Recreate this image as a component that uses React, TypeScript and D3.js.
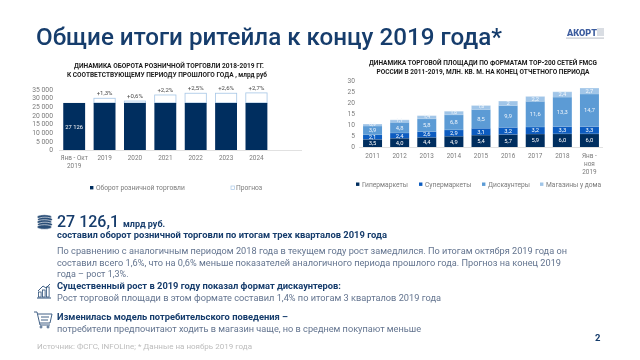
import React from "react";
import * as d3 from "d3";

const turnoverCats = ["Янв - Окт|2019", "2019", "2020", "2021", "2022", "2023", "2024", ""];
const turnoverBase = [27126, 27126, 27126, 27126, 27126, 27126, 27126];
const forecastExtra = [0, 2700, 1100, 4600, 5600, 5600, 5800];
const growthLabels = ["", "+1,3%", "+0,6%", "+2,2%", "+2,5%", "+2,6%", "+2,7%"];
const leftTicks = [0, 5000, 10000, 15000, 20000, 25000, 30000, 35000];

const areaCats = ["2011", "2012", "2013", "2014", "2015", "2016", "2017", "2018", "Янв -|ноя|2019"];
const hyper = [3.5, 4.0, 4.4, 4.9, 5.4, 5.7, 5.9, 6.0, 6.0];
const superm = [2.1, 2.4, 2.6, 2.9, 3.1, 3.2, 3.2, 3.3, 3.3];
const disc = [3.9, 4.8, 5.8, 6.8, 8.5, 9.9, 11.6, 13.3, 14.7];
const conv = [0.9, 1.1, 1.4, 1.6, 1.8, 2.0, 2.2, 2.4, 2.7];
const rightTicks = [0, 5, 10, 15, 20, 25, 30];
const seriesNames = ["Гипермаркеты", "Супермаркеты", "Дискаунтеры", "Магазины у дома"];
const seriesColors = ["#002d5e", "#0a5cc0", "#5b9bd5", "#a0c5e8"];
const seriesText = ["#fff", "#fff", "#eef4fb", "#f4f8fc"];

const NAVY = "#163c6c";
const BODY = "#63748f";
const TICK = "#7b7b7b";
const FONT = "Roboto, sans-serif";

const fmtThousands = (v: number) => (v === 0 ? "0" : d3.format(",")(v).replace(",", " "));
const fmtDec = (v: number) => (v === 2 ? "2" : v.toFixed(1).replace(".", ","));

const xL = d3.scaleBand().domain(turnoverCats).range([59, 302]).paddingInner(0.28).paddingOuter(0.14);
const yL = d3.scaleLinear().domain([0, 35000]).range([150, 89.3]);
const xR = d3.scaleBand().domain(areaCats).range([359, 603]).paddingInner(0.3).paddingOuter(0.15);
const yR = d3.scaleLinear().domain([0, 30]).range([147, 80.7]);

const stackRows = areaCats.map((c, i) => ({ c, a: hyper[i], b: superm[i], d: disc[i], e: conv[i] }));
const stacked = d3.stack<any>().keys(["a", "b", "d", "e"])(stackRows);

function Coins() {
  const ys = [217, 219.5, 222, 224.5, 227];
  return (
    <g>
      {ys.map((y, i) => (
        <ellipse key={i} cx={i % 2 ? 45 : 44.4} cy={y} rx={7.4} ry={2.3} fill="#2c4f78" stroke="#fff" strokeWidth={0.6} />
      ))}
    </g>
  );
}

function ChartIcon() {
  const bars = [[38.5, 5], [42.5, 7], [46.5, 10]];
  return (
    <g>
      {bars.map(([x, h], i) => (
        <rect key={i} x={x} y={297 - h} width={2.6} height={h} fill="none" stroke="#2c4f78" strokeWidth={0.8} />
      ))}
      <path d="M37 298H51" stroke="#2c4f78" strokeWidth={1} />
      <path d="M38 291L43 286L46 288L50 284" fill="none" stroke="#2c4f78" strokeWidth={0.9} />
    </g>
  );
}

function CartIcon() {
  return (
    <g fill="none" stroke="#2c4f78" strokeWidth={0.9}>
      <path d="M34 312H37L40 325H50" />
      <path d="M38 314H52L50 323H40" />
      <path d="M41 317H49M41 320H48" />
      <circle cx={41} cy={327} r={1} />
      <circle cx={48} cy={327} r={1} />
    </g>
  );
}

export default function App() {
  return (
    <svg width={640} height={360} viewBox="0 0 640 360" style={{ position: "absolute", left: 0, top: 0, background: "#fff" }} fontFamily={FONT}>
      <defs>
        <filter id="soft" x="0" y="0" width="100%" height="100%">
          <feGaussianBlur stdDeviation="0.3" />
        </filter>
      </defs>
      <g filter="url(#soft)">
        <rect x={0} y={0} width={640} height={360} fill="#fff" />
        <text x={36} y={45} fontSize={23.3} fontWeight={500} fill={NAVY} textLength={466} lengthAdjust="spacingAndGlyphs">Общие итоги ритейла к концу 2019 года*</text>

        <g>
          <text x={567} y={36} fontSize={9.5} fontWeight={900} fill="#3b5b9e" textLength={30} lengthAdjust="spacingAndGlyphs">АКОРТ</text>
          <rect x={597} y={28} width={7} height={8} fill="#d9dde3" />
          <rect x={566} y={37.5} width={38} height={1.2} fill="#c4c8cf" />
        </g>

        {/* left chart */}
        <g textAnchor="middle" fontSize={6.6} fontWeight={700} fill="#1a1a1a">
          <text x={169} y={68} textLength={190} lengthAdjust="spacingAndGlyphs">ДИНАМИКА ОБОРОТА РОЗНИЧНОЙ ТОРГОВЛИ 2018-2019 ГГ.</text>
          <text x={167} y={77} textLength={200} lengthAdjust="spacingAndGlyphs">К СООТВЕТСТВУЮЩЕМУ ПЕРИОДУ ПРОШЛОГО ГОДА , млрд руб</text>
        </g>
        {leftTicks.map((t) => (
          <text key={t} x={53} y={yL(t) + 2.4} textAnchor="end" fontSize={6.8} fill={TICK}>{fmtThousands(t)}</text>
        ))}
        <line x1={59} x2={302} y1={150.5} y2={150.5} stroke="#d9d9d9" strokeWidth={0.8} />
        {turnoverBase.map((v, i) => {
          const c = turnoverCats[i];
          const x = xL(c)!;
          const w = xL.bandwidth();
          const top = yL(v + forecastExtra[i]);
          return (
            <g key={c}>
              {forecastExtra[i] > 0 && (
                <rect x={x + 0.3} y={top} width={w - 0.6} height={yL(v) - top} fill="#fff" stroke="#a6c6e6" strokeWidth={0.8} />
              )}
              <rect x={x} y={yL(v)} width={w} height={yL(0) - yL(v)} fill={seriesColors[0]} />
              {growthLabels[i] && (
                <text x={x + w / 2} y={top - 3.3} textAnchor="middle" fontSize={6} fill="#4a4a4a">{growthLabels[i]}</text>
              )}
              {c.split("|").map((l, k) => (
                <text key={k} x={x + w / 2} y={160 + k * 7.8} textAnchor="middle" fontSize={6.4} fill={TICK}>{l}</text>
              ))}
            </g>
          );
        })}
        <text x={xL(turnoverCats[0])! + xL.bandwidth() / 2} y={yL(12000)} textAnchor="middle" fontSize={5.8} fill="#fff">27 126</text>
        <rect x={90} y={186} width={3.4} height={3.4} fill={seriesColors[0]} />
        <text x={96} y={190} fontSize={6.7} fill={TICK}>Оборот розничной торговли</text>
        <rect x={231} y={186} width={3.4} height={3.4} fill="#fff" stroke="#a6c6e6" strokeWidth={0.7} />
        <text x={236} y={190} fontSize={6.7} fill={TICK}>Прогноз</text>

        {/* right chart */}
        <g textAnchor="middle" fontSize={6.6} fontWeight={700} fill="#1a1a1a">
          <text x={483} y={65} textLength={228} lengthAdjust="spacingAndGlyphs">ДИНАМИКА ТОРГОВОЙ ПЛОЩАДИ ПО ФОРМАТАМ ТОР-200 СЕТЕЙ FMCG</text>
          <text x={483} y={73.5} textLength={213} lengthAdjust="spacingAndGlyphs">РОССИИ В 2011-2019, МЛН. КВ. М. НА КОНЕЦ ОТЧЕТНОГО ПЕРИОДА</text>
        </g>
        {rightTicks.map((t) => (
          <text key={t} x={355} y={yR(t) + 2.4} textAnchor="end" fontSize={6.6} fill={TICK}>{t}</text>
        ))}
        <line x1={359} x2={603} y1={147.5} y2={147.5} stroke="#d9d9d9" strokeWidth={0.8} />
        {stacked.map((s, si) =>
          s.map((d, i) => {
            const c = areaCats[i];
            const x = xR(c)!;
            const w = xR.bandwidth();
            const y1 = yR(d[1]);
            const y0 = yR(d[0]);
            const lift = y0 - y1 < 4 ? 1 : 0;
            const fs = y0 - y1 < 4 ? 5 : 5.8;
            return (
              <g key={`${si}-${i}`}>
                <rect x={x} y={y1} width={w} height={y0 - y1} fill={seriesColors[si]} />
                <line x1={x} x2={x + w} y1={y1} y2={y1} stroke="#fff" strokeWidth={0.3} />
                <text x={x + w / 2} y={(y0 + y1) / 2 + 2 - lift} textAnchor="middle" fontSize={fs} fill={seriesText[si]}>{fmtDec(d[1] - d[0])}</text>
              </g>
            );
          })
        )}
        {areaCats.map((c) =>
          c.split("|").map((l, k) => (
            <text key={c + k} x={xR(c)! + xR.bandwidth() / 2} y={158 + k * 8} textAnchor="middle" fontSize={6.4} fill={TICK}>{l}</text>
          ))
        )}
        {seriesNames.map((n, i) => {
          const lx = [356, 419, 482, 540][i];
          return (
            <g key={n}>
              <rect x={lx} y={182.5} width={3.4} height={3.4} fill={seriesColors[i]} />
              <text x={lx + 6} y={186.5} fontSize={6.7} fill={TICK}>{n}</text>
            </g>
          );
        })}

        {/* text block */}
        <Coins />
        <ChartIcon />
        <CartIcon />
        <text x={57} y={227} fontSize={16} fontWeight={500} fill={NAVY}>27 126,1</text>
        <text x={123} y={227} fontSize={9} fontWeight={700} fill={NAVY}>млрд руб.</text>
        <text x={57} y={238} fontSize={8.6} fontWeight={700} fill={NAVY} textLength={330} lengthAdjust="spacingAndGlyphs">составил оборот розничной торговли по итогам трех кварталов 2019 года</text>
        <g fontSize={9} fill={BODY}>
          <text x={57} y={254} textLength={510} lengthAdjust="spacingAndGlyphs">По сравнению с аналогичным периодом 2018 года в текущем году рост замедлился. По итогам октября 2019 года он</text>
          <text x={57} y={265.5} textLength={504} lengthAdjust="spacingAndGlyphs">составил всего 1,6%, что на 0,6% меньше показателей аналогичного периода прошлого года. Прогноз на конец 2019</text>
          <text x={57} y={277}>года – рост 1,3%.</text>
          <text x={57} y={301} textLength={384} lengthAdjust="spacingAndGlyphs">Рост торговой площади в этом формате составил 1,4% по итогам 3 кварталов 2019 года</text>
          <text x={57} y={332} textLength={364} lengthAdjust="spacingAndGlyphs">потребители предпочитают ходить в магазин чаще, но в среднем покупают меньше</text>
        </g>
        <g fontSize={8.8} fontWeight={700} fill={NAVY}>
          <text x={57} y={289} textLength={284} lengthAdjust="spacingAndGlyphs">Существенный рост в 2019 году показал формат дискаунтеров:</text>
          <text x={57} y={320} textLength={231} lengthAdjust="spacingAndGlyphs">Изменилась модель потребительского поведения –</text>
        </g>
        <text x={37} y={349} fontSize={6.8} fill="#bcbcbc" textLength={215} lengthAdjust="spacingAndGlyphs">Источник: ФСГС, INFOLine; * Данные на ноябрь 2019 года</text>
        <text x={595} y={341} fontSize={9.5} fontWeight={700} fill={NAVY}>2</text>
      </g>
    </svg>
  );
}
